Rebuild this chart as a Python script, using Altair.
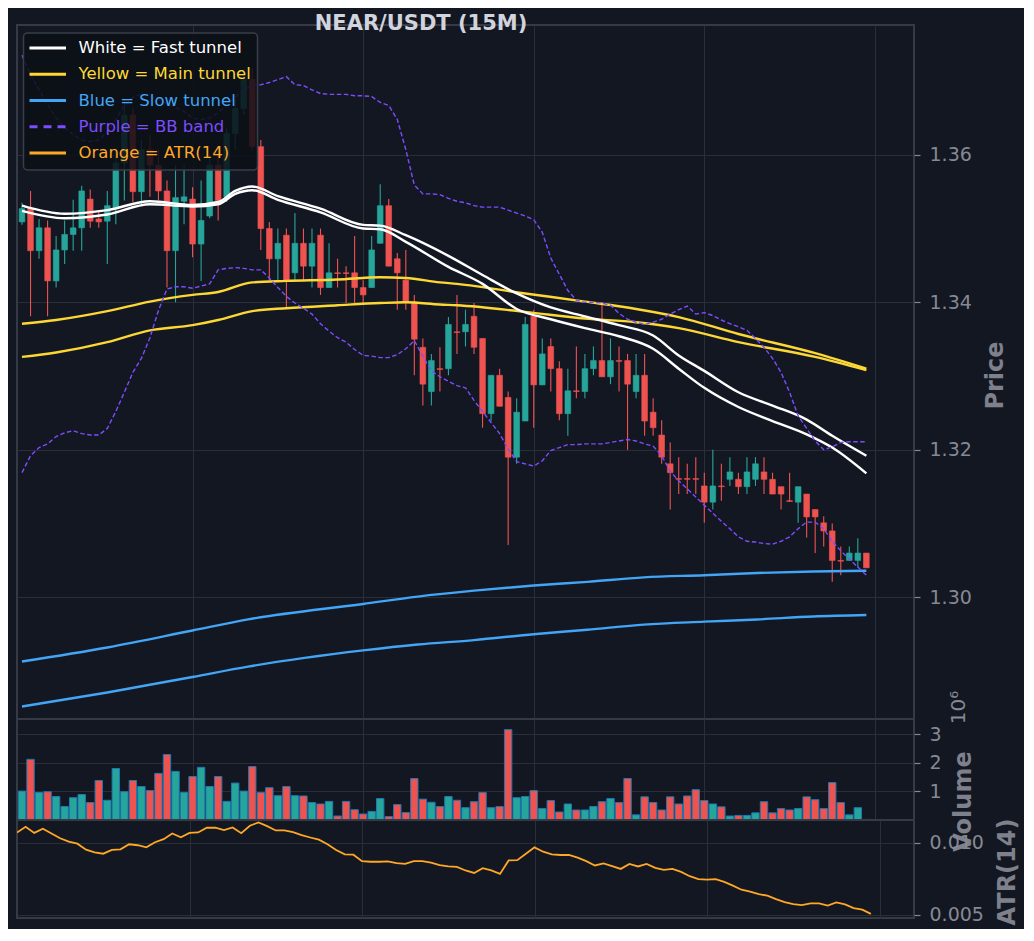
import altair as alt
import pandas as pd

# ---------------- data ----------------
OPEN = [1.3509,1.3527,1.3470,1.3501,1.3429,1.3471,1.3492,1.3501,1.3540,1.3513,
        1.3510,1.3527,1.3589,1.3654,1.3550,1.3607,1.3586,1.3551,1.3470,1.3537,
        1.3540,1.3479,1.3517,1.3586,1.3543,1.3629,1.3663,1.3702,1.3611,1.3500,
        1.3459,1.3491,1.3440,1.3480,1.3449,1.3491,1.3420,1.3440,1.3440,1.3440,
        1.3420,1.3420,1.3480,1.3531,1.3459,1.3430,1.3400,1.3339,1.3279,1.3310,
        1.3310,1.3360,1.3360,1.3381,1.3351,1.3249,1.3301,1.3271,1.3190,1.3239,
        1.3381,1.3288,1.3340,1.3310,1.3249,1.3280,1.3279,1.3310,1.3321,1.3299,
        1.3321,1.3321,1.3279,1.3301,1.3251,1.3220,1.3181,1.3161,1.3161,1.3161,
        1.3151,1.3129,1.3151,1.3160,1.3160,1.3150,1.3160,1.3170,1.3160,1.3150,
        1.3131,1.3129,1.3140,1.3119,1.3101,1.3090,1.3050,1.3050,1.3050,1.3060]
HIGH = [1.3535,1.3551,1.3513,1.3511,1.3490,1.3511,1.3539,1.3558,1.3553,1.3524,
        1.3551,1.3607,1.3675,1.3664,1.3620,1.3627,1.3607,1.3565,1.3586,1.3586,
        1.3556,1.3565,1.3600,1.3600,1.3637,1.3675,1.3716,1.3718,1.3620,1.3509,
        1.3500,1.3500,1.3521,1.3500,1.3500,1.3500,1.3480,1.3459,1.3449,1.3490,
        1.3430,1.3490,1.3560,1.3540,1.3467,1.3471,1.3410,1.3351,1.3330,1.3339,
        1.3380,1.3410,1.3390,1.3399,1.3351,1.3301,1.3310,1.3279,1.3270,1.3380,
        1.3390,1.3351,1.3351,1.3320,1.3310,1.3340,1.3330,1.3340,1.3399,1.3351,
        1.3340,1.3330,1.3330,1.3330,1.3270,1.3240,1.3210,1.3190,1.3181,1.3190,
        1.3169,1.3200,1.3181,1.3190,1.3169,1.3190,1.3190,1.3190,1.3169,1.3150,
        1.3169,1.3150,1.3140,1.3119,1.3110,1.3100,1.3069,1.3069,1.3080,1.3060]
LOW = [1.3505,1.3381,1.3459,1.3381,1.3420,1.3452,1.3470,1.3470,1.3501,1.3501,
       1.3452,1.3506,1.3538,1.3536,1.3532,1.3543,1.3538,1.3420,1.3400,1.3506,
       1.3461,1.3429,1.3514,1.3511,1.3536,1.3607,1.3654,1.3607,1.3471,1.3430,
       1.3430,1.3391,1.3430,1.3430,1.3420,1.3410,1.3420,1.3420,1.3399,1.3399,
       1.3399,1.3420,1.3480,1.3449,1.3390,1.3390,1.3301,1.3260,1.3260,1.3279,
       1.3301,1.3330,1.3340,1.3330,1.3230,1.3239,1.3259,1.3071,1.3181,1.3239,
       1.3230,1.3288,1.3279,1.3240,1.3219,1.3270,1.3270,1.3301,1.3299,1.3289,
       1.3279,1.3200,1.3270,1.3219,1.3219,1.3181,1.3119,1.3140,1.3140,1.3140,
       1.3101,1.3119,1.3131,1.3151,1.3140,1.3140,1.3151,1.3140,1.3140,1.3119,
       1.3130,1.3101,1.3081,1.3060,1.3069,1.3021,1.3030,1.3050,1.3040,1.3040]
CLOSE = [1.3527,1.3470,1.3501,1.3429,1.3471,1.3492,1.3501,1.3551,1.3510,1.3509,
         1.3531,1.3589,1.3654,1.3550,1.3607,1.3586,1.3551,1.3470,1.3542,1.3543,
         1.3479,1.3511,1.3586,1.3538,1.3629,1.3663,1.3702,1.3611,1.3500,1.3459,
         1.3480,1.3430,1.3480,1.3449,1.3480,1.3420,1.3440,1.3439,1.3439,1.3420,
         1.3410,1.3471,1.3531,1.3449,1.3440,1.3400,1.3350,1.3289,1.3321,1.3309,
         1.3370,1.3359,1.3370,1.3339,1.3249,1.3301,1.3259,1.3190,1.3251,1.3370,
         1.3288,1.3330,1.3310,1.3249,1.3280,1.3279,1.3310,1.3321,1.3299,1.3321,
         1.3320,1.3289,1.3301,1.3239,1.3230,1.3190,1.3169,1.3160,1.3160,1.3160,
         1.3129,1.3151,1.3150,1.3170,1.3150,1.3170,1.3181,1.3160,1.3140,1.3140,
         1.3130,1.3150,1.3109,1.3109,1.3090,1.3050,1.3049,1.3060,1.3060,1.3040]
VOLUME_M = [1.01,2.12,0.96,0.99,0.82,0.47,0.78,0.89,0.61,1.38,
            0.69,1.80,0.99,1.38,1.17,1.03,1.63,2.29,1.70,0.96,
            1.52,1.84,1.17,1.52,0.65,1.29,1.01,1.87,0.96,1.13,
            0.85,1.17,0.85,0.84,0.61,0.56,0.65,0.14,0.65,0.36,
            0.21,0.30,0.75,0.12,0.54,0.26,1.45,0.73,0.62,0.47,
            0.82,0.69,0.43,0.64,0.96,0.43,0.47,3.16,0.78,0.82,
            1.03,0.40,0.68,0.28,0.56,0.35,0.35,0.47,0.64,0.75,
            0.61,1.45,0.18,0.81,0.61,0.35,0.81,0.56,0.84,1.06,
            0.68,0.56,0.46,0.14,0.16,0.16,0.25,0.64,0.25,0.40,
            0.35,0.40,0.81,0.71,0.40,1.31,0.61,0.18,0.43,0.02]
ATR14 = [0.01073,0.01113,0.01070,0.01099,0.01066,0.01033,0.01009,0.00995,0.00953,0.00934,
         0.00925,0.00951,0.00955,0.00991,0.00984,0.00969,0.01005,0.01026,0.01066,0.01040,
         0.01070,0.01073,0.01106,0.01106,0.01089,0.01108,0.01068,0.01120,0.01143,0.01117,
         0.01087,0.01087,0.01075,0.01054,0.01038,0.01023,0.00991,0.00951,0.00920,0.00918,
         0.00873,0.00869,0.00869,0.00871,0.00859,0.00854,0.00873,0.00873,0.00862,0.00845,
         0.00836,0.00833,0.00808,0.00791,0.00824,0.00808,0.00784,0.00878,0.00880,0.00925,
         0.00969,0.00939,0.00920,0.00916,0.00916,0.00897,0.00873,0.00843,0.00857,0.00838,
         0.00819,0.00854,0.00836,0.00854,0.00826,0.00812,0.00819,0.00798,0.00768,0.00747,
         0.00744,0.00747,0.00728,0.00702,0.00674,0.00660,0.00643,0.00632,0.00608,0.00587,
         0.00573,0.00566,0.00578,0.00578,0.00563,0.00585,0.00571,0.00545,0.00535,0.00505]
BB_UPPER = [1.3735,1.3709,1.3688,1.3668,1.3650,1.3637,1.3627,1.3620,1.3618,1.3620,
            1.3631,1.3648,1.3667,1.3678,1.3682,1.3679,1.3675,1.3669,1.3664,1.3659,
            1.3650,1.3648,1.3650,1.3657,1.3667,1.3678,1.3688,1.3694,1.3695,1.3698,
            1.3702,1.3706,1.3695,1.3694,1.3688,1.3683,1.3682,1.3682,1.3682,1.3680,
            1.3680,1.3679,1.3671,1.3667,1.3648,1.3607,1.3559,1.3547,1.3547,1.3546,
            1.3541,1.3537,1.3535,1.3531,1.3529,1.3529,1.3529,1.3525,1.3521,1.3517,
            1.3512,1.3495,1.3460,1.3438,1.3416,1.3403,1.3400,1.3400,1.3399,1.3396,
            1.3385,1.3377,1.3373,1.3370,1.3373,1.3377,1.3384,1.3390,1.3395,1.3384,
            1.3386,1.3382,1.3376,1.3371,1.3367,1.3362,1.3351,1.3339,1.3324,1.3305,
            1.3278,1.3246,1.3229,1.3212,1.3200,1.3204,1.3210,1.3211,1.3211,1.3211]
BB_LOWER = [1.3169,1.3192,1.3203,1.3208,1.3218,1.3223,1.3226,1.3222,1.3220,1.3220,
            1.3229,1.3252,1.3278,1.3305,1.3324,1.3352,1.3389,1.3418,1.3421,1.3421,
            1.3419,1.3422,1.3425,1.3444,1.3446,1.3447,1.3446,1.3444,1.3444,1.3433,
            1.3420,1.3408,1.3399,1.3392,1.3384,1.3371,1.3361,1.3352,1.3346,1.3336,
            1.3328,1.3327,1.3325,1.3325,1.3329,1.3337,1.3348,1.3327,1.3307,1.3299,
            1.3293,1.3287,1.3284,1.3267,1.3252,1.3237,1.3222,1.3201,1.3184,1.3181,
            1.3178,1.3185,1.3199,1.3203,1.3207,1.3207,1.3208,1.3208,1.3208,1.3210,
            1.3212,1.3214,1.3212,1.3208,1.3205,1.3192,1.3171,1.3158,1.3147,1.3136,
            1.3125,1.3114,1.3103,1.3093,1.3082,1.3076,1.3075,1.3073,1.3072,1.3076,
            1.3082,1.3093,1.3102,1.3102,1.3093,1.3076,1.3063,1.3052,1.3041,1.3030]

FAST_IDX = [0,5,10,15,20,23,25,27,30,35,40,42,45,50,54,58,62,66,70,74,77,80,84,88,92,95,99]
FAST_UPPER = [1.3531,1.3520,1.3525,1.3537,1.3532,1.3536,1.3551,1.3557,1.3544,1.3527,1.3505,1.3504,1.3491,
              1.3463,1.3437,1.3412,1.3393,1.3381,1.3369,1.3355,1.3328,1.3307,1.3278,1.3260,1.3241,1.3219,1.3192]
FAST_LOWER = [1.3524,1.3514,1.3519,1.3533,1.3530,1.3533,1.3547,1.3552,1.3539,1.3522,1.3500,1.3499,1.3482,
              1.3448,1.3425,1.3391,1.3377,1.3365,1.3354,1.3337,1.3310,1.3284,1.3258,1.3239,1.3221,1.3203,1.3168]
MAIN_IDX = [0,4,10,15,20,23,27,31,37,42,45,49,51,59,66,72,77,84,93,99]
MAIN_UPPER = [1.3371,1.3376,1.3388,1.3401,1.3410,1.3414,1.3427,1.3429,1.3431,1.3434,
              1.3433,1.3427,1.3425,1.3412,1.3401,1.3391,1.3380,1.3357,1.3331,1.3310]
MAIN_LOWER = [1.3326,1.3332,1.3346,1.3362,1.3369,1.3376,1.3388,1.3392,1.3396,1.3399,
              1.3400,1.3397,1.3396,1.3387,1.3378,1.3373,1.3365,1.3346,1.3326,1.3308]
SLOW_IDX = [0,10,20,26.5,40,46.4,53,60,66.3,72.9,80,86.2,92.8,99]
SLOW_UPPER = [1.2913,1.2932,1.2955,1.2970,1.2991,1.3001,1.3009,1.3016,1.3021,1.3027,1.3030,1.3033,1.3035,1.3036]
SLOW_LOWER = [1.2852,1.2871,1.2892,1.2906,1.2928,1.2936,1.2942,1.2950,1.2956,1.2963,1.2967,1.2970,1.2974,1.2976]

TITLE = "NEAR/USDT (15M)"
LEGEND_LABELS = ["White = Fast tunnel", "Yellow = Main tunnel", "Blue = Slow tunnel",
                 "Purple = BB band", "Orange = ATR(14)"]
LEGEND_COLORS = ["#ffffff", "#fdd835", "#42a5f5", "#7c4dff", "#ffa726"]
PRICE_TICKS = [1.30, 1.32, 1.34, 1.36]
VOL_TICKS = [1, 2, 3]
ATR_TICKS = [0.005, 0.010]
X_GRID = [20, 40, 60, 80, 100]

# ---------------- styles ----------------
BG = "#131722"
GRID = "#2a2e39"
SPINE = "#363a45"
LABEL = "#868993"
TITLE_GRAY = "#7e818b"
UP = "#26a69a"
DOWN = "#ef5350"
W = 897
H_MAIN, H_VOL, H_ATR = 694, 101, 98

df = pd.DataFrame({"i": list(range(len(CLOSE))), "open": OPEN, "high": HIGH, "low": LOW,
                   "close": CLOSE, "volume": VOLUME_M, "atr": ATR14,
                   "bb_up": BB_UPPER, "bb_lo": BB_LOWER})

xs = alt.Scale(domain=[0, 104], nice=False, zero=False)
x_axis = alt.Axis(values=X_GRID, labels=False, ticks=False, domain=False, title=None, grid=True)


def X(field="i"):
    return alt.X(f"{field}:Q", scale=xs, axis=x_axis)


def yaxis(title, values, fmt, tx, ty):
    return alt.Axis(orient="right", values=values, format=fmt, title=title, grid=True,
                    titleX=tx, titleY=ty, titleAngle=270, titleAlign="center",
                    titleBaseline="middle", domain=False)


price_scale = alt.Scale(domain=[1.2835, 1.3776], nice=False, zero=False)
price_axis = yaxis("Price", PRICE_TICKS, ".2f", 81, 350)


def PY(field):
    return alt.Y(f"{field}:Q", scale=price_scale, axis=price_axis)


base = alt.Chart(df).transform_calculate(
    col=f"datum.close >= datum.open ? '{UP}' : '{DOWN}'")

wicks = base.mark_rule(strokeWidth=1.1, clip=True).encode(
    x=X(), y=PY("low"), y2="high:Q", color=alt.Color("col:N", scale=None))
bodies = base.mark_bar(size=5.7, clip=True, strokeWidth=0.6).encode(
    x=X(), y=PY("open"), y2="close:Q", color=alt.Color("col:N", scale=None),
    stroke=alt.Stroke("col:N", scale=None))


def band(idx, up, lo):
    return pd.concat([pd.DataFrame({"k": idx, "v": up, "s": "upper"}),
                      pd.DataFrame({"k": idx, "v": lo, "s": "lower"})], ignore_index=True)


def tunnel(idx, up, lo, color, width):
    return alt.Chart(band(idx, up, lo)).mark_line(
        color=color, strokeWidth=width, clip=True, interpolate="monotone").encode(
        x=X("k"), y=PY("v"), detail="s:N")


slow = tunnel(SLOW_IDX, SLOW_UPPER, SLOW_LOWER, "#42a5f5", 2.4)
main_t = tunnel(MAIN_IDX, MAIN_UPPER, MAIN_LOWER, "#fdd835", 2.4)
fast = tunnel(FAST_IDX, FAST_UPPER, FAST_LOWER, "#ffffff", 2.4)

bb = alt.Chart(df).transform_fold(["bb_up", "bb_lo"], as_=["s", "v"]).mark_line(
    color="#7c4dff", strokeWidth=1.4, strokeDash=[4.5, 2.5], clip=True).encode(
    x=X(), y=PY("v"), detail="s:N")

legend_box = alt.Chart(pd.DataFrame({"a": [0]})).mark_rect(
    fill="#0c0f16", fillOpacity=0.86, stroke="#3a3e4a", strokeWidth=1.5, cornerRadius=4).encode(
    x=alt.value(6.5), x2=alt.value(240.5), y=alt.value(8), y2=alt.value(145))

legend_layers = []
for j, (lab, colr) in enumerate(zip(LEGEND_LABELS, LEGEND_COLORS)):
    yy = 23 + 26.25 * j
    d = pd.DataFrame({"label": [lab]})
    rule_kw = dict(color=colr, strokeWidth=3.2)
    if "BB" in lab:
        rule_kw["strokeDash"] = [8, 6]
    legend_layers.append(alt.Chart(d).mark_rule(**rule_kw).encode(
        x=alt.value(12.5), x2=alt.value(49), y=alt.value(yy)))
    legend_layers.append(alt.Chart(d).mark_text(
        align="left", baseline="middle", color=colr, fontSize=16.5).encode(
        x=alt.value(61.5), y=alt.value(yy), text="label:N"))

title_mark = alt.Chart(pd.DataFrame({"t": [TITLE]})).mark_text(
    fontSize=21, fontWeight="bold", color="#d1d4dc", align="center", baseline="middle").encode(
    x=alt.value(404), y=alt.value(-1), text="t:N")

main_chart = alt.layer(wicks, bodies, slow, main_t, fast, bb, legend_box,
                       *legend_layers, title_mark).properties(width=W, height=H_MAIN)

# volume panel
vol_scale = alt.Scale(domain=[0, 3.53], nice=False, zero=True)
vol_bars = base.mark_bar(size=7.4, clip=True, stroke="#1f77b4", strokeWidth=1).encode(
    x=X(), y=alt.Y("volume:Q", scale=vol_scale, axis=yaxis("Volume", VOL_TICKS, "d", 49, 82)),
    color=alt.Color("col:N", scale=None))
vol_offset = alt.Chart(pd.DataFrame({"t": ["10\u2076"]})).mark_text(
    fontSize=20, color=LABEL, angle=270, align="center", baseline="middle").encode(
    x=alt.value(942), y=alt.value(-11.5), text="t:N")
vol_chart = alt.layer(vol_bars, vol_offset).properties(width=W, height=H_VOL)

# ATR panel
atr_scale = alt.Scale(domain=[0.004766, 0.0116], nice=False, zero=False)
atr_line = alt.Chart(df).mark_line(color="#ffa726", strokeWidth=1.8, clip=True).encode(
    x=X(), y=alt.Y("atr:Q", scale=atr_scale, axis=yaxis("ATR(14)", ATR_TICKS, ".3f", 93, 51.5)))
atr_chart = atr_line.properties(width=W, height=H_ATR)

chart = alt.vconcat(main_chart, vol_chart, atr_chart, spacing=0, bounds="flush").properties(
    padding={"left": 8, "top": 4, "right": 4, "bottom": 3}, background=BG
).configure(
    font="DejaVu Sans", background=BG
).configure_view(
    stroke=SPINE, strokeWidth=2, fill=BG
).configure_axis(
    gridColor=GRID, gridWidth=1, tickColor=LABEL, tickSize=6, tickWidth=1.2,
    labelColor=LABEL, labelFontSize=19, labelFont="DejaVu Sans", labelPadding=9,
    titleColor=TITLE_GRAY, titleFont="DejaVu Sans", titleFontSize=24, titleFontWeight="bold"
)

chart.save("out.html", embed_options={"renderer": "svg", "actions": False})
